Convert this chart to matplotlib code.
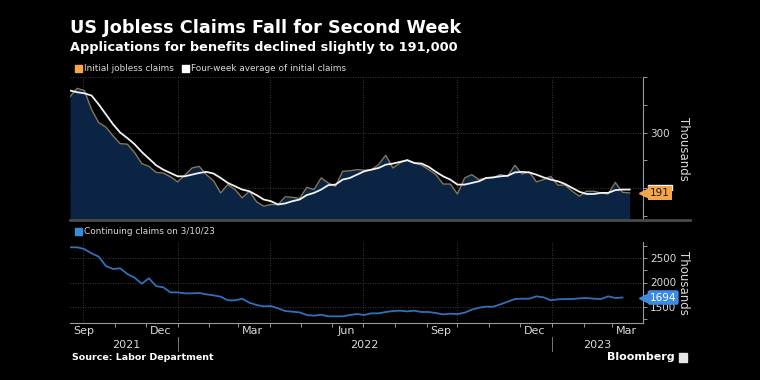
import numpy as np
import pandas as pd
import matplotlib
matplotlib.use("Agg")
import matplotlib.pyplot as plt
import matplotlib.dates as mdates
from matplotlib.lines import Line2D
from matplotlib.patches import Rectangle

# weekly data, thousands
dates = pd.date_range("2021-09-18", periods=79, freq="7D")
initial_claims = [
    365, 380, 376, 342, 318, 310, 294, 280, 279, 264,
    244, 239, 228, 227, 220, 211, 223, 236, 239, 224,
    213, 191, 206, 197, 182, 194, 175, 167, 170, 170,
    184, 183, 181, 201, 197, 218, 209, 203, 230, 231,
    233, 232, 233, 242, 259, 236, 245, 251, 245, 241,
    233, 224, 207, 207, 189, 218, 224, 215, 218, 219,
    224, 221, 241, 225, 229, 211, 215, 221, 205, 205,
    194, 185, 194, 194, 191, 189, 210, 192, 191,
]
four_week_avg = [
    376, 373, 371, 367, 351, 333, 315, 300, 290, 279,
    265, 253, 241, 233, 227, 221, 221, 224, 227, 229,
    226, 218, 209, 203, 197, 194, 187, 179, 176, 170,
    172, 176, 179, 187, 191, 197, 205, 206, 215, 218,
    224, 230, 233, 236, 242, 244, 247, 250, 245, 244,
    238, 229, 221, 215, 206, 206, 209, 212, 218, 219,
    221, 222, 228, 229, 228, 224, 219, 215, 212, 207,
    200, 193, 189, 189, 191, 191, 196, 197, 197,
]
continuing_claims = [
    2718, 2718, 2683, 2595, 2527, 2336, 2275, 2289, 2173, 2098,
    1976, 2085, 1928, 1901, 1799, 1799, 1779, 1779, 1786, 1759,
    1738, 1711, 1636, 1636, 1670, 1588, 1541, 1514, 1520, 1473,
    1418, 1405, 1391, 1337, 1323, 1343, 1310, 1310, 1310, 1337,
    1357, 1337, 1371, 1371, 1398, 1418, 1425, 1411, 1425, 1398,
    1398, 1378, 1350, 1364, 1357, 1384, 1446, 1486, 1507, 1507,
    1555, 1609, 1663, 1670, 1670, 1718, 1697, 1636, 1657, 1663,
    1663, 1677, 1684, 1670, 1663, 1718, 1684, 1694,
]
cont_dates = dates[:len(continuing_claims)]

month_ticks = ["2021-10-01", "2021-12-15", "2022-03-15", "2022-06-15",
               "2022-09-15", "2022-12-15", "2023-03-15"]
month_labels = ["Sep", "Dec", "Mar", "Jun", "Sep", "Dec", "Mar"]
year_labels = [("2021-11-12", "2021"), ("2022-07-02", "2022"), ("2023-02-14", "2023")]
year_breaks = ["2022-01-01", "2023-01-01"]

BG = "black"
ORANGE = "#f5a54a"
BLUE = "#3170b8"
TAG_BLUE = "#3d8be0"
NAVY = "#0b2443"
TAN = "#85765c"
GRID = "#4d4d4d"
TXT = "#d9d9d9"

plt.rcParams["font.family"] = ["DejaVu Sans"]

fig = plt.figure(figsize=(7.6, 3.8), dpi=100, facecolor=BG)
W, H = 760, 380

def fx(px):
    return px / W

def fy(py):
    return 1 - py / H

xmin, xmax = pd.Timestamp("2021-09-18"), pd.Timestamp("2023-03-31")

ax1 = fig.add_axes([fx(70), fy(220), fx(573), 143 / H], facecolor=BG)
ax2 = fig.add_axes([fx(70), fy(323), fx(573), 81 / H], facecolor=BG)

for ax in (ax1, ax2):
    ax.set_xlim(xmin, xmax)
    for s in ("left", "top"):
        ax.spines[s].set_visible(False)
    ax.spines["right"].set_color("#9a9a9a")
    ax.spines["right"].set_linewidth(0.8)
    ax.yaxis.tick_right()
    ax.tick_params(axis="y", colors="#9a9a9a", labelcolor=TXT, labelsize=7.5,
                   length=3, width=0.7, pad=2)
    ax.tick_params(axis="y", which="minor", colors="#9a9a9a", length=3, width=0.7)
    ax.xaxis.set_minor_locator(mdates.MonthLocator())
    ax.grid(True, which="major", color=GRID, ls=(0, (1, 2)), lw=0.6)
    ax.set_axisbelow(True)

# vertical gridlines at quarter boundaries
for ax in (ax1, ax2):
    for d in ["2021-10-01", "2022-01-01", "2022-04-01", "2022-07-01", "2022-10-01", "2023-01-01"]:
        ax.axvline(pd.Timestamp(d), color=GRID, ls=(0, (1, 2)), lw=0.6, zorder=0)
    ax.xaxis.grid(False)

# ---- top panel
ax1.set_ylim(142, 400.5)
ax1.fill_between(dates, initial_claims, 0, color=NAVY, lw=0, zorder=1)
ax1.plot(dates, initial_claims, color=TAN, lw=1.0, zorder=2)
ax1.plot(dates, four_week_avg, color="#f2f2f2", lw=1.3, zorder=3)
ax1.set_yticks([200, 300, 400])
ax1.set_yticklabels(["", "300", ""])  # 200 sits behind the value tag
ax1.yaxis.set_minor_locator(plt.MultipleLocator(50))
ax1.set_xticks([])
ax1.tick_params(axis="x", which="both", length=0)
ax1.spines["bottom"].set_visible(False)

# ---- bottom panel
ax2.set_ylim(1174, 2826)
ax2.plot(cont_dates, continuing_claims, color=BLUE, lw=1.3, zorder=3)
ax2.set_yticks([1500, 2000, 2500])
ax2.yaxis.set_minor_locator(plt.MultipleLocator(250))
ax2.spines["bottom"].set_color("#9a9a9a")
ax2.spines["bottom"].set_linewidth(0.8)
ax2.set_xticks([pd.Timestamp(d) for d in month_ticks])
ax2.set_xticklabels(month_labels)
ax2.tick_params(axis="x", which="major", length=0, labelsize=8, labelcolor=TXT, pad=2)
ax2.tick_params(axis="x", which="minor", length=3, width=0.7, colors="#9a9a9a")

tr = ax2.get_xaxis_transform()
for d, lab in year_labels:
    ax2.text(pd.Timestamp(d), -0.27, lab, transform=tr, ha="center", va="center",
             color=TXT, fontsize=8)
for d in year_breaks:
    ax2.add_line(Line2D([pd.Timestamp(d)] * 2, [-0.17, -0.34], transform=tr,
                        color="#777777", lw=0.7, clip_on=False))

# y axis titles
for ax in (ax1, ax2):
    ax.text(1.07, 0.5, "Thousands", transform=ax.transAxes, rotation=270,
            ha="center", va="center", color=TXT, fontsize=8.5)

# value tags
def tag(ax, y, text, fc, tc, style="square"):
    ax.plot([1.0], [y], marker="<", ms=6, color=fc, transform=ax.get_yaxis_transform(),
            clip_on=False, zorder=10)
    ax.text(1.012, y, text, transform=ax.get_yaxis_transform(), ha="left", va="center",
            fontsize=7.5, color=tc, zorder=11, clip_on=False,
            bbox=dict(boxstyle=f"{style},pad=0.22", fc=fc, ec="none"))

# four-week average tag, mostly hidden behind the initial claims tag
ytr = ax1.get_yaxis_transform()
ax1.add_patch(Rectangle((1.008, 196), 0.043, 9.5, transform=ytr, color="#f2f2f2",
                        clip_on=False, zorder=9))
tag(ax1, 191, "191", ORANGE, "#1a1a1a")
tag(ax2, 1694, "1694", TAG_BLUE, "white", style="round")

# panel separator
fig.add_artist(Line2D([fx(70), fx(690)], [fy(219.5), fy(219.5)], color="#4a4a4a", lw=2))

# titles
fig.text(fx(70), fy(28), "US Jobless Claims Fall for Second Week", color="white",
         fontsize=12.7, fontweight="bold", va="center", ha="left")
fig.text(fx(70), fy(47), "Applications for benefits declined slightly to 191,000",
         color="white", fontsize=9.3, fontweight="bold", va="center", ha="left")

# legends
def legend_item(x, y, color, label):
    fig.add_artist(Rectangle((fx(x), fy(y + 3.5)), 7 / W, 7 / H, color=color,
                             transform=fig.transFigure))
    fig.text(fx(x + 9), fy(y), label, color=TXT, fontsize=6.4, va="center", ha="left")

legend_item(75, 68.5, ORANGE, "Initial jobless claims")
legend_item(182, 68.5, "white", "Four-week average of initial claims")
legend_item(75, 231, TAG_BLUE, "Continuing claims on 3/10/23")

# footer
fig.text(fx(72), fy(358), "Source: Labor Department", color="white", fontsize=6.8,
         fontweight="bold", va="center", ha="left")
fig.text(fx(675), fy(357), "Bloomberg", color="white", fontsize=8,
         fontweight="bold", va="center", ha="right")
fig.add_artist(Rectangle((fx(679), fy(362)), 8 / W, 9 / H, color="#e6e6e6",
                         transform=fig.transFigure))

fig.savefig("out.png", dpi=100, facecolor=BG)
